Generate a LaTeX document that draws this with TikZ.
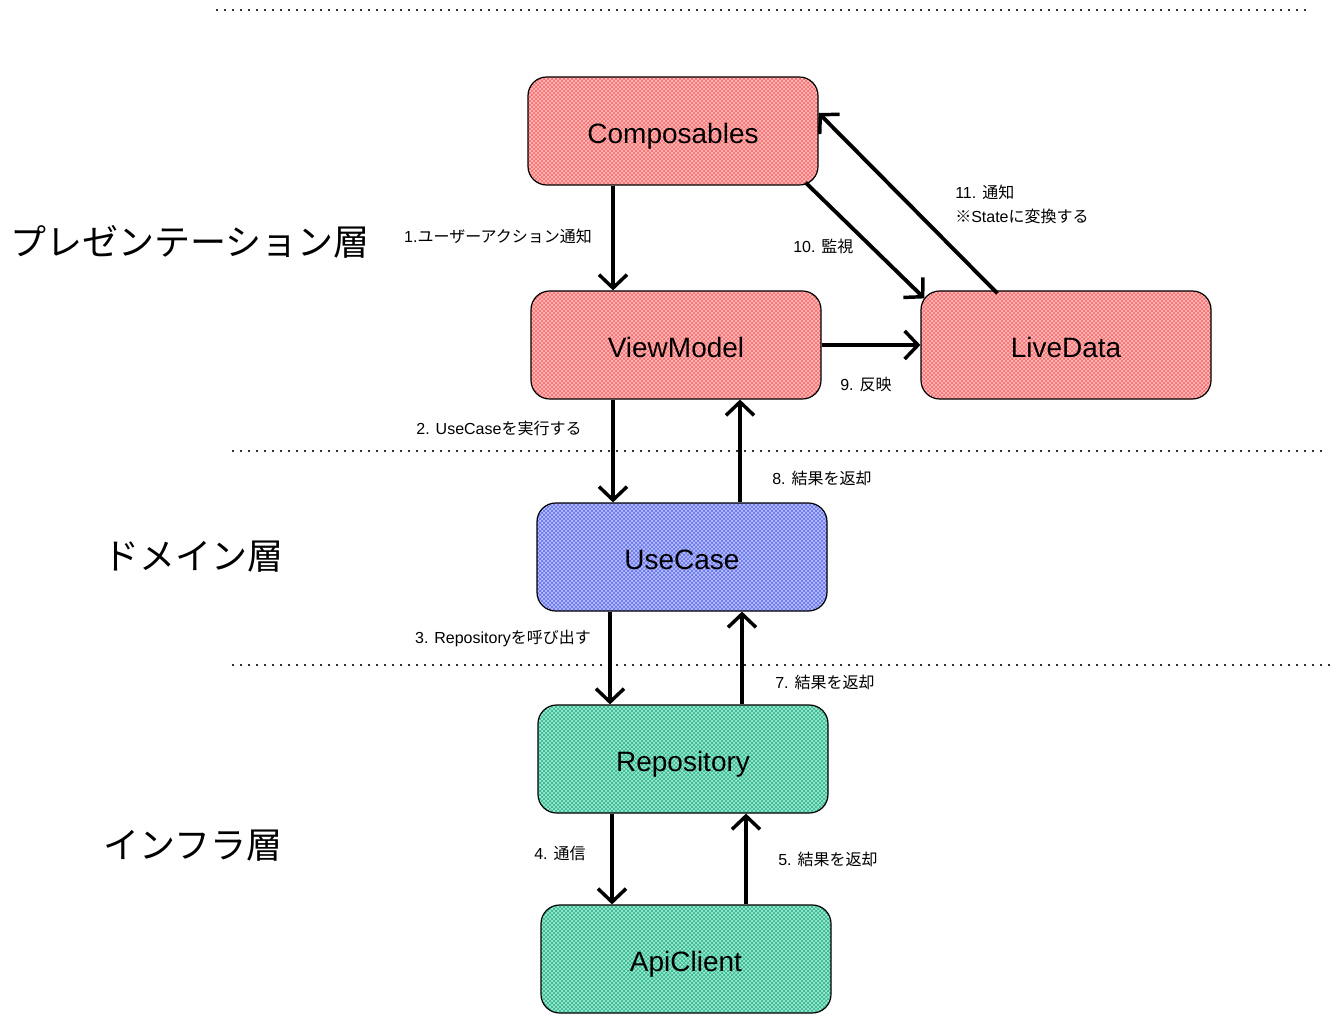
\documentclass[tikz,border=0pt]{standalone}
\usepackage{fontspec}
\setmainfont{Liberation Sans}
\newfontfamily\jpfont{Noto Sans CJK JP}
\usetikzlibrary{arrows.meta,patterns}
\definecolor{redfill}{RGB}{250,190,190}
\definecolor{redhatch}{RGB}{255,100,100}
\definecolor{bluefill}{RGB}{185,192,250}
\definecolor{bluehatch}{RGB}{95,110,240}
\definecolor{greenfill}{RGB}{165,228,208}
\definecolor{greenhatch}{RGB}{35,185,140}
\tikzset{
  box/.style={draw=black, line width=0.9pt, rounded corners=14pt,
    minimum width=217.5pt, minimum height=81pt, font=\fontsize{21}{24}\selectfont,
    inner sep=0pt, text height=19pt, text depth=0pt},
  redbox/.style={box, preaction={fill=redfill}, pattern=crosshatch, pattern color=redhatch},
  bluebox/.style={box, preaction={fill=bluefill}, pattern=crosshatch, pattern color=bluehatch},
  greenbox/.style={box, preaction={fill=greenfill}, pattern=crosshatch, pattern color=greenhatch},
  arr/.style={line width=2.9pt, -{Straight Barb[length=10pt,width=21pt,line width=2.6pt]}},
  lbl/.style={font=\fontsize{12}{14}\selectfont, inner sep=0pt},
  layer/.style={font=\fontsize{27}{30}\selectfont\jpfont, inner sep=0pt},
  sep/.style={line width=0.8pt, dash pattern=on 1.5pt off 4.5pt, black!80}
}
\begin{document}
\begin{tikzpicture}[x=0.75pt,y=-0.75pt]
\useasboundingbox (0,0) rectangle (1341,1023);
% separators
\coordinate (s1a) at (216,10);  \coordinate (s1b) at (1310,10);
\coordinate (s2a) at (232,451); \coordinate (s2b) at (1325,451);
\coordinate (s3a) at (232,665); \coordinate (s3b) at (1335,665);
\draw[sep] (s1a) -- (s1b);
\draw[sep] (s2a) -- (s2b);
\draw[sep] (s3a) -- (s3b);
% layer labels
\node[layer] (lp) at (190,242) {プレゼンテーション層};
\node[layer] (ld) at (193,557) {ドメイン層};
\node[layer] (li) at (193,846) {インフラ層};
% nodes
\node[redbox] (comp) at (673,131) {Composables};
\node[redbox] (vm) at (676,345) {ViewModel};
\node[redbox] (ld2) at (1066,345) {LiveData};
\node[bluebox] (uc) at (682,557) {UseCase};
\node[greenbox] (repo) at (683,759) {Repository};
\node[greenbox] (api) at (686,959) {ApiClient};
% arrows
\draw[arr] ([xshift=-45pt]comp.south) -- ([xshift=-45pt]comp.south |- vm.north);
\draw[arr] ([xshift=-47.25pt]vm.south) -- ([xshift=-47.25pt]vm.south |- uc.north);
\draw[arr] ([xshift=43.5pt]uc.north) -- ([xshift=43.5pt]uc.north |- vm.south);
\draw[arr] ([xshift=-54pt]uc.south) -- ([xshift=-54pt]uc.south |- repo.north);
\draw[arr] ([xshift=44.25pt]repo.north) -- ([xshift=44.25pt]repo.north |- uc.south);
\draw[arr] ([xshift=-53.25pt]repo.south) -- ([xshift=-53.25pt]repo.south |- api.north);
\draw[arr] ([xshift=45pt]api.north) -- ([xshift=45pt]api.north |- repo.south);
\draw[arr] (vm.east) -- (ld2.west);
\draw[arr] ([shift={(-13,-3)}]comp.south east) -- ([shift={(4,8)}]ld2.north west);
\draw[arr] ([shift={(77,3)}]ld2.north west) -- ([shift={(0,-18)}]comp.east);
% labels
\node[lbl] (l1) at (498,236) {1.{\jpfont ユーザーアクション通知}};
\node[lbl] (l2) at (499,428) {2. UseCase{\jpfont を実行する}};
\node[lbl, anchor=west] (l8) at (772,478) {8. {\jpfont 結果を返却}};
\node[lbl] (l3) at (503,638) {3. Repository{\jpfont を呼び出す}};
\node[lbl, anchor=west] (l7) at (775,682) {7. {\jpfont 結果を返却}};
\node[lbl, anchor=west] (l4) at (534,853) {4. {\jpfont 通信}};
\node[lbl, anchor=west] (l5) at (778,859) {5. {\jpfont 結果を返却}};
\node[lbl, anchor=west] (l9) at (840,384) {9. {\jpfont 反映}};
\node[lbl, anchor=west] (l10) at (793,246) {10. {\jpfont 監視}};
\node[lbl, anchor=west] (l11a) at (955,192) {11. {\jpfont 通知}};
\node[lbl, anchor=west] (l11b) at (955,216) {{\jpfont ※}State{\jpfont に変換する}};
\end{tikzpicture}
\end{document}
